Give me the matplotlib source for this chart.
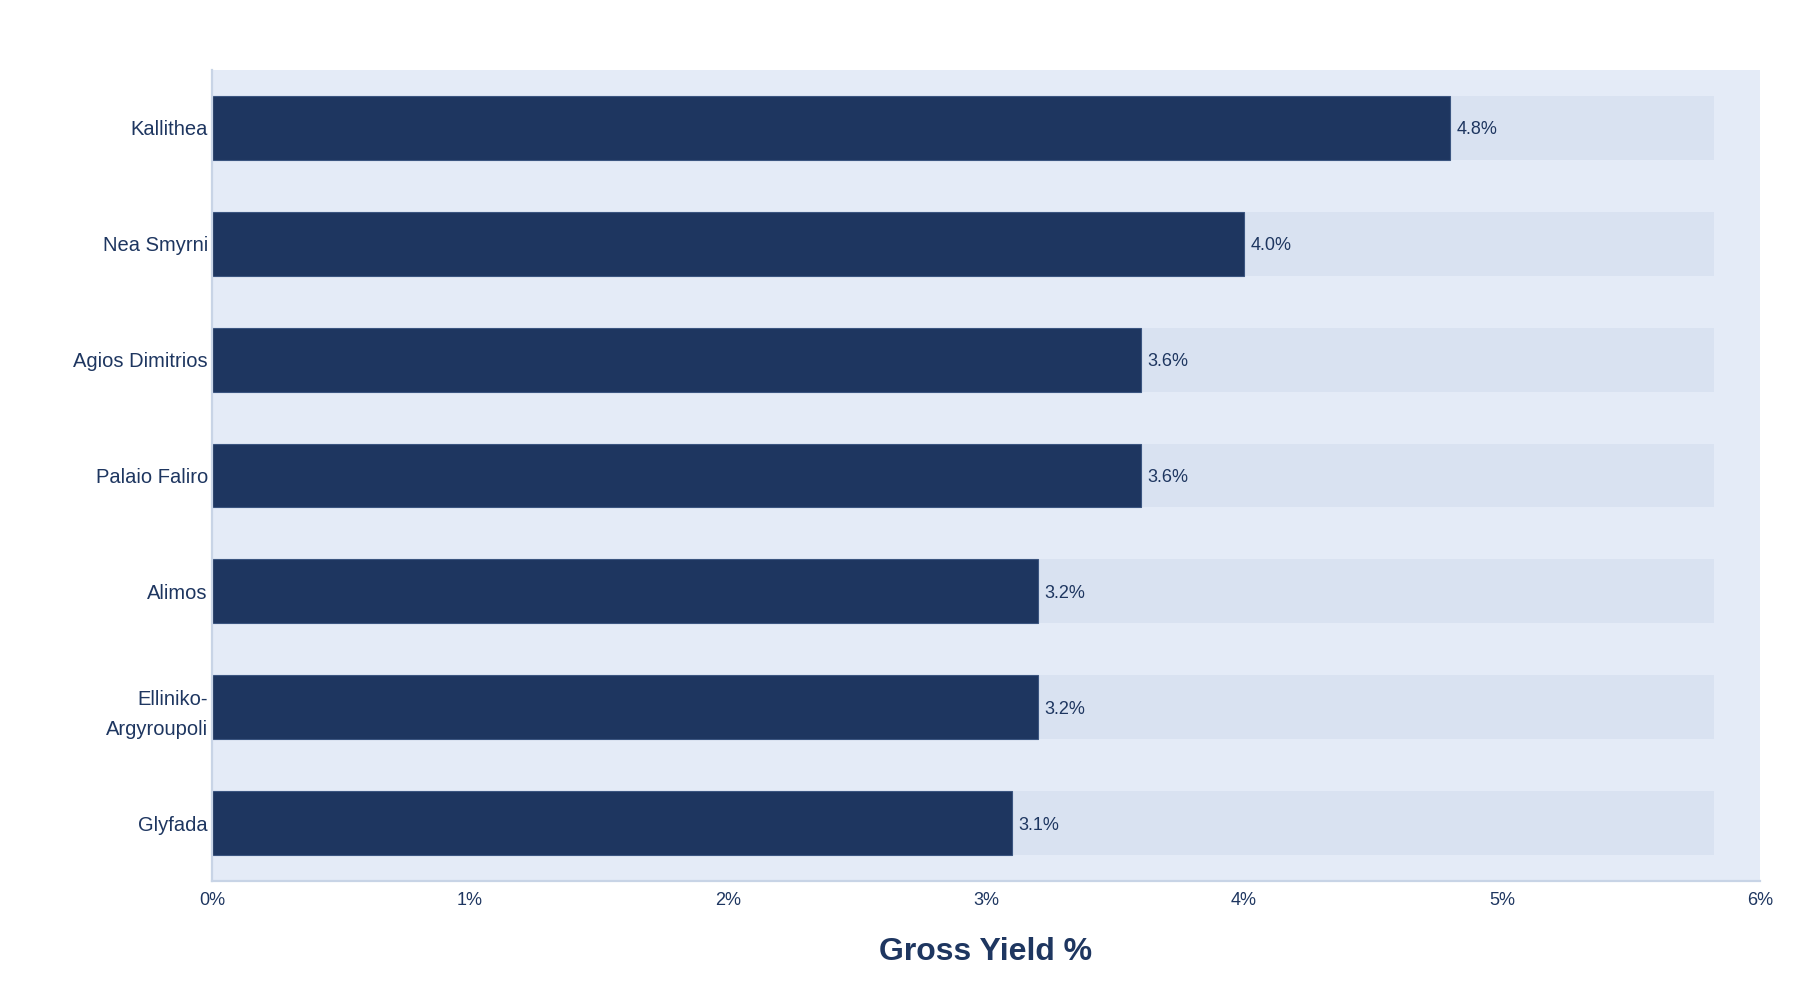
import matplotlib.pyplot as plt
from matplotlib.ticker import FuncFormatter

plt.rcParams['font.family'] = ['Liberation Sans', 'DejaVu Sans']

# data, top to bottom as in the chart
areas = ["Kallithea", "Nea Smyrni", "Agios Dimitrios", "Palaio Faliro",
         "Alimos", "Elliniko-\nArgyroupoli", "Glyfada"]
gross_yield = [4.8, 4.0, 3.6, 3.6, 3.2, 3.2, 3.1]
track_max = 5.82
xticks = [0, 1, 2, 3, 4, 5, 6]

navy = "#1e3660"
plot_bg = "#e4ebf7"
track_col = "#d9e2f1"
axis_col = "#c8d4e6"

fig = plt.figure(figsize=(18, 10), dpi=100)
ax = fig.add_axes([0.1178, 0.119, 0.86, 0.811])
ax.set_facecolor(plot_bg)

ypos = list(range(len(areas)))[::-1]
ax.barh(ypos, [track_max]*len(areas), height=0.55, color=track_col, zorder=1)
ax.barh(ypos, gross_yield, height=0.55, color=navy, edgecolor="#3b5580",
        linewidth=0.8, zorder=2)
for y, v in zip(ypos, gross_yield):
  ax.text(v + 0.025, y, "%.1f%%" % v, va='center_baseline', ha='left',
          fontsize=13, color=navy, zorder=3)

ax.set_yticks(ypos)
ax.set_yticklabels(areas, fontsize=14.5, color=navy, linespacing=1.75)
ax.set_xticks(xticks)
ax.xaxis.set_major_formatter(FuncFormatter(lambda v, p: "%d%%" % v))
ax.tick_params(axis='x', labelsize=13, labelcolor=navy, length=0, pad=8)
ax.tick_params(axis='y', length=0, pad=3)
ax.set_xlim(0, 6)
ax.set_ylim(-0.5, len(areas) - 0.5)

for side in ['top', 'right']:
  ax.spines[side].set_visible(False)
for side in ['left', 'bottom']:
  ax.spines[side].set_color(axis_col)
  ax.spines[side].set_linewidth(1.6)

ax.set_xlabel("Gross Yield %", fontsize=23, fontweight='heavy', color=navy,
              labelpad=20)

fig.savefig("out.png", dpi=100)
